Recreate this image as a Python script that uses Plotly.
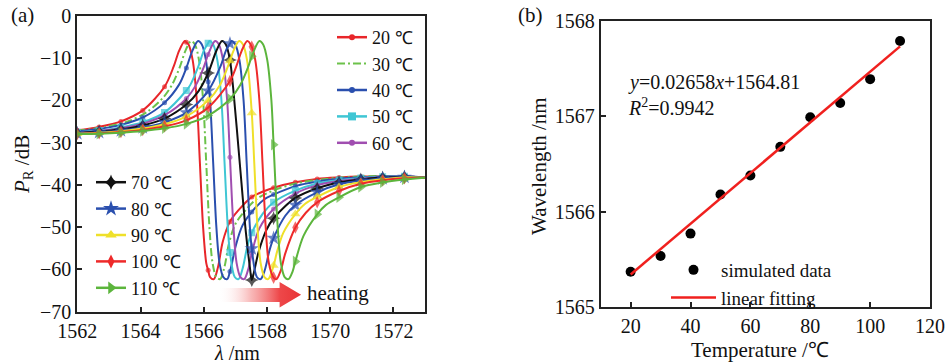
import plotly.graph_objects as go

# ---------------- panel (a): reflection spectra P_R(λ) ----------------
temps_a = [20, 30, 40, 50, 60, 70, 80, 90, 100, 110]

wl_20 = [1562.00, 1562.69, 1563.38, 1564.07, 1564.76, 1565.05, 1565.22, 1565.40, 1565.45, 1565.52, 1565.65, 1565.78, 1565.88, 1565.98, 1566.08, 1566.14, 1566.20, 1566.32, 1566.45, 1566.60, 1566.83, 1567.10, 1567.52, 1568.21, 1568.90, 1569.59, 1570.28, 1570.97, 1571.66, 1572.35, 1573.00]
pr_20 = [-27.1, -26.3, -25.0, -22.4, -16.8, -12.0, -8.3, -6.0, -6.3, -6.8, -10.5, -20.0, -35.0, -50.0, -58.5, -60.2, -61.8, -62.3, -59.5, -53.5, -48.7, -46.0, -42.9, -40.7, -39.4, -38.6, -38.25, -38.05, -38.0, -37.95, -38.3]

wl_30 = [1562.00, 1562.90, 1563.60, 1564.20, 1564.70, 1565.00, 1565.25, 1565.42, 1565.60, 1565.72, 1565.85, 1565.98, 1566.08, 1566.18, 1566.28, 1566.40, 1566.52, 1566.65, 1566.80, 1567.00, 1567.30, 1567.70, 1568.20, 1568.90, 1569.80, 1570.80, 1572.10, 1573.00]
pr_30 = [-27.2, -26.3, -25.0, -22.8, -19.5, -16.3, -12.0, -8.3, -6.0, -6.8, -10.5, -20.0, -35.0, -50.0, -58.5, -61.8, -62.3, -59.6, -53.8, -49.3, -46.2, -43.2, -41.35, -39.7, -38.65, -38.1, -37.9, -38.3]

wl_40 = [1562.00, 1562.69, 1563.38, 1564.07, 1564.76, 1565.22, 1565.45, 1565.64, 1565.82, 1565.94, 1566.07, 1566.14, 1566.20, 1566.30, 1566.40, 1566.50, 1566.62, 1566.74, 1566.83, 1567.02, 1567.22, 1567.52, 1567.92, 1568.21, 1568.90, 1569.59, 1570.28, 1570.97, 1571.66, 1572.35, 1573.00]
pr_40 = [-27.36, -26.79, -25.82, -24.08, -20.56, -16.3, -12.34, -8.3, -6.0, -6.8, -10.5, -15.6, -20.0, -35.0, -50.0, -58.5, -61.8, -62.3, -60.5, -54.2, -49.7, -46.4, -43.4, -42.3, -40.3, -39.2, -38.55, -38.2, -38.0, -37.9, -38.3]

wl_50 = [1562.00, 1562.69, 1563.38, 1564.07, 1564.76, 1565.45, 1565.58, 1565.83, 1566.00, 1566.14, 1566.18, 1566.30, 1566.43, 1566.56, 1566.66, 1566.76, 1566.83, 1566.98, 1567.10, 1567.23, 1567.38, 1567.52, 1567.88, 1568.21, 1568.90, 1569.59, 1570.28, 1570.97, 1571.66, 1572.35, 1573.00]
pr_50 = [-27.59, -27.16, -26.41, -25.2, -22.87, -17.69, -16.3, -12.0, -8.3, -6.5, -6.0, -6.8, -10.5, -20.0, -35.0, -50.0, -56.0, -61.8, -62.3, -59.8, -54.5, -51.35, -46.7, -44.1, -41.35, -39.66, -38.85, -38.4, -38.1, -37.95, -38.3]

wl_60 = [1562.00, 1562.69, 1563.38, 1564.07, 1564.76, 1565.45, 1565.76, 1566.01, 1566.14, 1566.36, 1566.48, 1566.61, 1566.74, 1566.83, 1566.94, 1567.04, 1567.16, 1567.28, 1567.41, 1567.52, 1567.76, 1568.21, 1568.90, 1569.59, 1570.28, 1570.97, 1571.66, 1572.35, 1573.00]
pr_60 = [-27.66, -27.27, -26.62, -25.54, -23.53, -19.57, -16.3, -12.0, -9.17, -6.0, -6.8, -10.5, -20.0, -33.5, -50.0, -58.5, -61.8, -62.3, -59.9, -56.2, -50.3, -45.7, -42.05, -40.06, -39.11, -38.53, -38.16, -38.02, -38.3]

wl_70 = [1562.00, 1562.69, 1563.38, 1564.07, 1564.76, 1565.45, 1565.83, 1566.14, 1566.40, 1566.58, 1566.70, 1566.83, 1566.93, 1567.13, 1567.33, 1567.46, 1567.52, 1567.60, 1567.73, 1567.98, 1568.21, 1568.90, 1569.59, 1570.28, 1570.97, 1571.66, 1572.35, 1573.00]
pr_70 = [-27.74, -27.41, -26.87, -25.95, -24.34, -21.02, -17.9, -13.55, -8.3, -6.0, -6.8, -10.5, -17.0, -34.0, -51.0, -59.5, -62.5, -60.3, -56.0, -50.7, -47.9, -43.1, -40.8, -39.44, -38.71, -38.28, -38.07, -38.3]

wl_80 = [1562.00, 1562.69, 1563.38, 1564.07, 1564.76, 1565.45, 1566.14, 1566.53, 1566.70, 1566.83, 1566.88, 1567.00, 1567.13, 1567.26, 1567.36, 1567.46, 1567.52, 1567.68, 1567.80, 1567.93, 1568.08, 1568.21, 1568.58, 1568.90, 1569.59, 1570.28, 1570.97, 1571.66, 1572.35, 1573.00]
pr_80 = [-27.86, -27.59, -27.16, -26.43, -25.22, -22.91, -17.79, -12.0, -8.3, -6.6, -6.0, -6.8, -10.5, -20.0, -35.0, -50.0, -55.1, -61.8, -62.3, -60.2, -55.5, -52.6, -47.3, -44.8, -41.8, -39.88, -39.0, -38.5, -38.17, -38.3]

wl_90 = [1562.00, 1562.69, 1563.38, 1564.07, 1564.76, 1565.45, 1566.14, 1566.52, 1566.83, 1566.94, 1567.12, 1567.24, 1567.37, 1567.52, 1567.60, 1567.70, 1567.80, 1567.92, 1568.04, 1568.21, 1568.32, 1568.52, 1568.90, 1569.22, 1569.59, 1570.28, 1570.97, 1571.66, 1572.35, 1573.00]
pr_90 = [-27.92, -27.69, -27.31, -26.7, -25.67, -23.79, -20.03, -16.3, -10.69, -8.3, -6.0, -6.8, -10.5, -23.0, -35.0, -50.0, -58.5, -61.8, -62.3, -59.1, -55.8, -51.3, -46.9, -44.4, -42.84, -40.51, -39.36, -38.69, -38.25, -38.3]

wl_100 = [1562.00, 1562.69, 1563.38, 1564.07, 1564.76, 1565.45, 1566.14, 1566.83, 1567.03, 1567.20, 1567.38, 1567.52, 1567.63, 1567.76, 1567.86, 1567.96, 1568.06, 1568.21, 1568.30, 1568.43, 1568.58, 1568.90, 1569.23, 1569.59, 1570.28, 1570.97, 1571.66, 1572.35, 1573.00]
pr_100 = [-27.95, -27.78, -27.48, -27.0, -26.15, -24.74, -21.74, -15.44, -12.0, -8.3, -6.0, -7.37, -10.5, -20.0, -35.0, -50.0, -58.5, -61.93, -62.3, -60.4, -56.2, -50.1, -46.6, -44.13, -41.45, -39.75, -38.9, -38.43, -38.3]

wl_110 = [1562.00, 1562.69, 1563.38, 1564.07, 1564.76, 1565.45, 1566.14, 1566.83, 1567.16, 1567.41, 1567.52, 1567.76, 1567.88, 1568.01, 1568.14, 1568.21, 1568.34, 1568.44, 1568.56, 1568.68, 1568.81, 1568.90, 1569.16, 1569.59, 1569.86, 1570.28, 1570.97, 1571.66, 1572.35, 1573.00]
pr_110 = [-28.0, -27.91, -27.67, -27.28, -26.64, -25.58, -23.61, -19.7, -16.3, -12.0, -9.61, -6.0, -6.8, -10.5, -20.0, -30.5, -50.0, -58.5, -61.8, -62.3, -60.5, -58.1, -52.0, -46.96, -44.8, -42.95, -40.51, -39.4, -38.73, -38.3]

# wavelengths at which the original plot draws a symbol on each curve
marker_wl = [1562.00, 1562.69, 1563.38, 1564.07, 1564.76, 1565.45, 1566.14, 1566.83,
             1567.52, 1568.21, 1568.90, 1569.59, 1570.28, 1570.97, 1571.66, 1572.35]

# ---------------- panel (b): resonance wavelength vs temperature ----------------
temp_b = [20, 30, 40, 50, 60, 70, 80, 90, 100, 110]
wl_b = [1565.37, 1565.535, 1565.77, 1566.18, 1566.38, 1566.68, 1566.99, 1567.14, 1567.39, 1567.79]
fit_slope = 0.02658
fit_intercept = 1564.81
fit_range = [20, 110]

# ---------------- styles ----------------
FONT = "Liberation Serif"
spectra = {20: (wl_20, pr_20), 30: (wl_30, pr_30), 40: (wl_40, pr_40), 50: (wl_50, pr_50),
           60: (wl_60, pr_60), 70: (wl_70, pr_70), 80: (wl_80, pr_80), 90: (wl_90, pr_90),
           100: (wl_100, pr_100), 110: (wl_110, pr_110)}
styles = {
    20: dict(color="#e8262a", symbol="circle", size=5, dash="solid"),
    30: dict(color="#6cc24a", symbol=None, size=0, dash="8px,3px,2px,3px"),
    40: dict(color="#2a4fae", symbol="circle", size=5, dash="solid"),
    50: dict(color="#3fc6d4", symbol="square", size=7, dash="solid"),
    60: dict(color="#a04eb0", symbol="circle", size=5, dash="solid"),
    70: dict(color="#111111", symbol="star-diamond", size=10, dash="solid"),
    80: dict(color="#2a4fae", symbol="star", size=11, dash="solid"),
    90: dict(color="#efe02a", symbol="triangle-up", size=9, dash="solid"),
    100: dict(color="#ee2a2a", symbol="diamond-tall", size=9, dash="solid"),
    110: dict(color="#5cb53c", symbol="triangle-right", size=10, dash="solid"),
}

fig = go.Figure()
marker_set = set(round(v, 2) for v in marker_wl)

for t in temps_a:
    wl, pr = spectra[t]
    st = styles[t]
    if st["symbol"]:
        sizes = [st["size"] if round(v, 2) in marker_set else 0 for v in wl]
        fig.add_trace(go.Scatter(
            x=wl, y=pr, mode="lines+markers", showlegend=False, hoverinfo="skip",
            line=dict(color=st["color"], width=2, shape="spline", smoothing=0.9),
            marker=dict(symbol=st["symbol"], size=sizes, color=st["color"], line=dict(width=0)),
            xaxis="x", yaxis="y"))
    else:
        fig.add_trace(go.Scatter(
            x=wl, y=pr, mode="lines", showlegend=False, hoverinfo="skip",
            line=dict(color=st["color"], width=2, shape="spline", smoothing=0.9, dash=st["dash"]),
            xaxis="x", yaxis="y"))

# legend entries for panel (a)
for t in temps_a:
    st = styles[t]
    kw = dict(x=[None], y=[None], name=f"{t} ℃", xaxis="x", yaxis="y",
              legend="legend" if t <= 60 else "legend2")
    if st["symbol"]:
        fig.add_trace(go.Scatter(mode="lines+markers",
                                 line=dict(color=st["color"], width=2.5),
                                 marker=dict(symbol=st["symbol"], size=st["size"] + 1, color=st["color"]),
                                 **kw))
    else:
        fig.add_trace(go.Scatter(mode="lines",
                                 line=dict(color=st["color"], width=2, dash=st["dash"]), **kw))

# "heating" arrow (gradient filled polygon)
arrow_x = [1566.45, 1568.40, 1568.40, 1569.08, 1568.40, 1568.40, 1566.45, 1566.45]
arrow_y = [-64.4, -64.4, -63.0, -66.0, -69.0, -67.7, -67.7, -64.4]
fig.add_trace(go.Scatter(
    x=arrow_x, y=arrow_y, mode="lines", fill="toself", showlegend=False, hoverinfo="skip",
    line=dict(width=0, color="rgba(0,0,0,0)"),
    fillgradient=dict(type="horizontal",
                      colorscale=[[0, "rgba(255,255,255,0)"], [0.4, "rgba(246,160,160,0.75)"],
                                  [0.74, "rgb(238,72,74)"], [1, "rgb(232,52,54)"]]),
    xaxis="x", yaxis="y"))

# panel (b)
fig.add_trace(go.Scatter(
    x=temp_b, y=wl_b, mode="markers", name="simulated data", legend="legend3",
    marker=dict(color="black", size=10), xaxis="x2", yaxis="y2"))
fit_y = [fit_slope * v + fit_intercept for v in fit_range]
fig.add_trace(go.Scatter(
    x=fit_range, y=fit_y, mode="lines", name="linear fitting", legend="legend3",
    line=dict(color="#f0201e", width=2.5), xaxis="x2", yaxis="y2"))

W, H = 947, 364


def px(xp):
    return xp / W


def py(yp):
    return 1 - yp / H


axis_common = dict(showline=True, linewidth=2, linecolor="#222", mirror=True,
                   ticks="inside", ticklen=5, tickwidth=1.5, tickcolor="#222",
                   showgrid=False, zeroline=False,
                   tickfont=dict(family=FONT, size=20, color="#111"))

fig.update_layout(
    width=W, height=H, margin=dict(l=0, r=0, t=0, b=0),
    paper_bgcolor="white", plot_bgcolor="white", template=None,
    font=dict(family=FONT, color="#111"),
    xaxis=dict(domain=[px(77.3), px(425)], range=[1562, 1573], tick0=1562, dtick=2,
               anchor="y", **axis_common),
    yaxis=dict(domain=[py(311.7), py(15.7)], range=[-70, 0], dtick=10,
               anchor="x", **axis_common),
    xaxis2=dict(domain=[px(600.7), px(930)], range=[10, 120], tick0=20, dtick=20,
                anchor="y2", **axis_common),
    yaxis2=dict(domain=[py(307), py(21)], range=[1565, 1568], dtick=1,
                anchor="x2", **axis_common),
    legend=dict(x=px(332), y=py(19), xanchor="left", yanchor="top", bgcolor="rgba(0,0,0,0)",
                font=dict(family=FONT, size=18, color="#111"), tracegroupgap=0),
    legend2=dict(x=px(91), y=py(164), xanchor="left", yanchor="top", bgcolor="rgba(0,0,0,0)",
                 font=dict(family=FONT, size=18, color="#111"), tracegroupgap=0),
    legend3=dict(x=px(666), y=py(251), xanchor="left", yanchor="top", bgcolor="rgba(0,0,0,0)",
                 font=dict(family=FONT, size=19, color="#111"), itemwidth=45, tracegroupgap=0),
)

ann_font = dict(family=FONT, size=21, color="#111")
annotations = [
    dict(text="(a)", x=px(22), y=py(15), xref="paper", yref="paper", showarrow=False,
         font=ann_font, xanchor="center", yanchor="middle"),
    dict(text="<i>P</i><sub>R</sub> /dB", x=px(23), y=py(165), xref="paper", yref="paper",
         showarrow=False, textangle=-90, font=ann_font, xanchor="center", yanchor="middle"),
    dict(text="<i>λ</i> /nm", x=px(237), y=py(353), xref="paper", yref="paper", showarrow=False,
         font=dict(family=FONT, size=20, color="#111"), xanchor="center", yanchor="middle"),
    dict(text="heating", x=px(305), y=py(293), xref="paper", yref="paper", showarrow=False,
         font=ann_font, xanchor="left", yanchor="middle"),
    dict(text="(b)", x=px(530), y=py(15), xref="paper", yref="paper", showarrow=False,
         font=ann_font, xanchor="center", yanchor="middle"),
    dict(text="Wavelength /nm", x=px(539), y=py(166), xref="paper", yref="paper",
         showarrow=False, textangle=-90, font=ann_font, xanchor="center", yanchor="middle"),
    dict(text="Temperature /℃", x=px(760), y=py(350), xref="paper", yref="paper",
         showarrow=False, font=ann_font, xanchor="center", yanchor="middle"),
    dict(text="<i>y</i>=0.02658<i>x</i>+1564.81", x=px(626), y=py(83), xref="paper", yref="paper",
         showarrow=False, font=dict(family=FONT, size=20, color="#111"), xanchor="left", yanchor="middle"),
    dict(text="<i>R</i><sup>2</sup>=0.9942", x=px(626), y=py(107), xref="paper", yref="paper",
         showarrow=False, font=dict(family=FONT, size=20, color="#111"), xanchor="left", yanchor="middle"),
]
fig.update_layout(annotations=annotations)

fig.write_html("out.html", config={"displayModeBar": False},
               post_script="document.body.style.margin='0px';")
